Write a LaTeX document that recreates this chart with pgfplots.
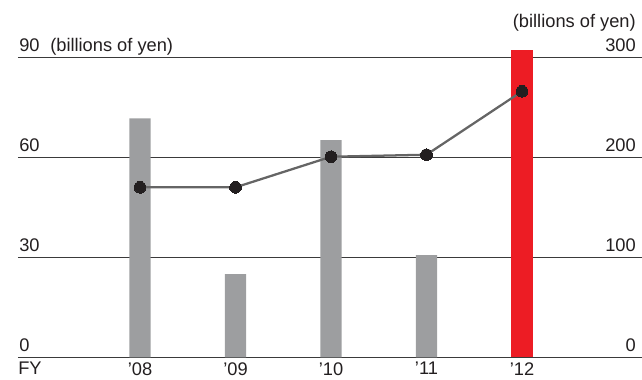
\documentclass[border=0pt]{standalone}
\usepackage{pgfplots}
\pgfplotsset{compat=1.18}
\usepackage{fontspec}
\setmainfont{Liberation Sans}

\definecolor{barGray}{HTML}{9D9EA0}
\definecolor{barRed}{HTML}{ED1C24}
\definecolor{lineGray}{HTML}{656565}
\definecolor{dotBlack}{HTML}{231F20}
\definecolor{textDark}{HTML}{231F20}
\definecolor{gridDark}{HTML}{3A3A3A}

% 1px = 0.75pt
\pgfplotsset{
  base/.style={
    scale only axis,
    width=468pt, height=225pt,
    xmin=-0.2775, xmax=6.2565,
    axis line style={draw=none},
    major tick length=0pt,
    clip=false,
    /pgf/number format/assume math mode=true,
    tick label style={font=\fontsize{13.7}{16}\selectfont, text=textDark, inner sep=0pt},
  },
}

\begin{document}
\begin{tikzpicture}
\begin{axis}[
  base,
  ymin=0, ymax=90,
  ytick={0,30,60,90},
  ymajorgrids,
  grid style={gridDark, line width=0.8pt},
  yticklabel style={anchor=base west, xshift=0.75pt, yshift=4.5pt},
  xtick={1,2,3,4,5},
  xticklabels={’08,’09,’10,’11,’12},
  xticklabel style={anchor=north, yshift=-3.5pt},
]
  \addplot[ybar, bar width=0.225, bar shift=0pt, fill=barGray, draw=none]
    coordinates {(1,71.7) (2,25.0) (3,65.2) (4,30.7)};
  \addplot[ybar, bar width=0.225, bar shift=0pt, fill=barRed, draw=none]
    coordinates {(5,92.1)};
  \node[anchor=base west, inner sep=0pt, text=textDark, font=\fontsize{13.7}{16}\selectfont]
    at (rel axis cs:0,1) [xshift=24pt, yshift=4.5pt] {(billions of yen)};
  \node[anchor=north west, inner sep=0pt, text=textDark, font=\fontsize{13.7}{16}\selectfont]
    at (rel axis cs:0,0) [yshift=-3.5pt] {FY};
\end{axis}
\begin{axis}[
  base,
  ymin=0, ymax=300,
  ytick={0,100,200,300},
  axis y line*=right,
  axis x line=none,
  yticklabel style={anchor=base east, xshift=-4.5pt, yshift=4.5pt},
]
  \addplot[lineGray, line width=1.7pt, mark=*, mark size=4.4pt,
           mark options={fill=dotBlack, draw=dotBlack, line width=0pt}]
    coordinates {(1,170) (2,170) (3,200.6) (4,202.6) (5,266)};
  \node[anchor=base east, inner sep=0pt, text=textDark, font=\fontsize{13.7}{16}\selectfont]
    at (rel axis cs:1,1) [xshift=-4.5pt, yshift=22pt] {(billions of yen)};
\end{axis}
\pgfresetboundingbox
\path (-13.5pt,-16.3pt) rectangle (468pt,268pt);
\end{tikzpicture}
\end{document}
